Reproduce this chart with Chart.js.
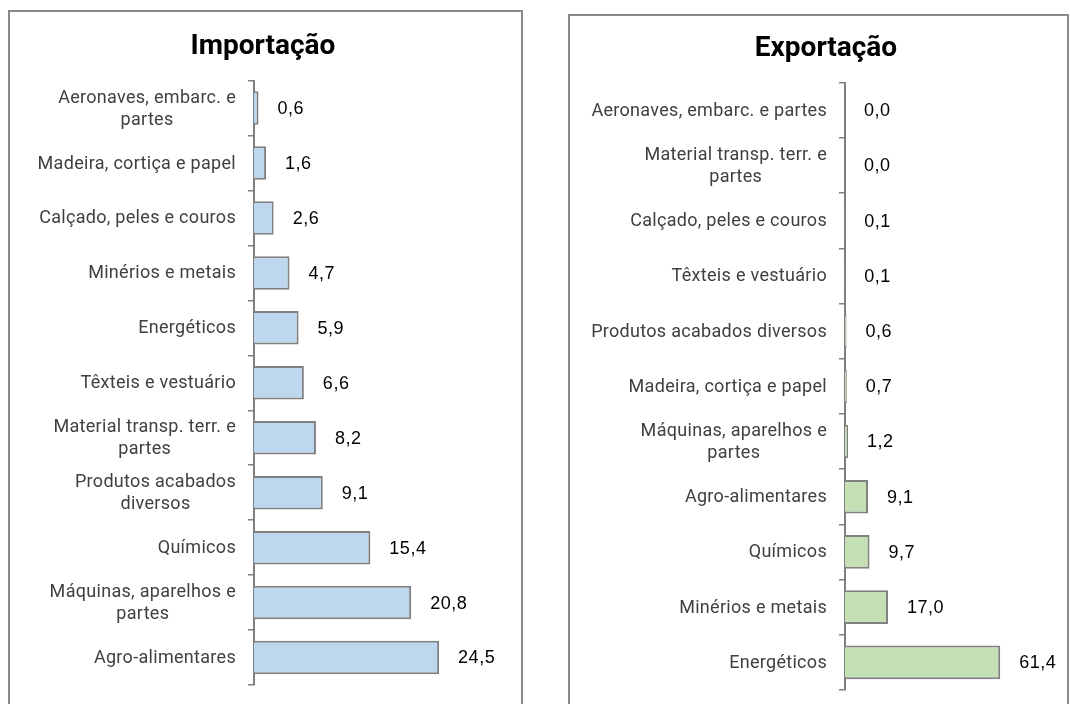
<!DOCTYPE html>
<html>
<head>
<meta charset="utf-8">
<script src="https://cdn.jsdelivr.net/npm/chart.js@4.4.0/dist/chart.umd.min.js"></script>
<style>
  body { margin: 0; background: #fff; width: 1070px; height: 704px; overflow: hidden; position: relative; }
  .painel { position: absolute; border: 2px solid #8a8a8a; box-sizing: border-box; }
  canvas { position: absolute; top: 0; }
</style>
</head>
<body>
<div class="painel" style="left:8px; top:10px; width:515px; height:720px;"></div>
<div class="painel" style="left:568px; top:14px; width:501px; height:720px;"></div>
<canvas id="graficoImp" width="535" height="704" style="left:0"></canvas>
<canvas id="graficoExp" width="535" height="704" style="left:535px"></canvas>
<script>
// importação (%)
const categoriasImp = [
  ['Aeronaves, embarc. e', 'partes'],
  'Madeira, cortiça e papel',
  'Calçado, peles e couros',
  'Minérios e metais',
  'Energéticos',
  'Têxteis e vestuário',
  ['Material transp. terr. e', 'partes'],
  ['Produtos acabados', 'diversos'],
  'Químicos',
  ['Máquinas, aparelhos e', 'partes'],
  'Agro-alimentares'
];
const valoresImp = [0.6, 1.6, 2.6, 4.7, 5.9, 6.6, 8.2, 9.1, 15.4, 20.8, 24.5];

// exportação (%)
const categoriasExp = [
  'Aeronaves, embarc. e partes',
  ['Material transp. terr. e', 'partes'],
  'Calçado, peles e couros',
  'Têxteis e vestuário',
  'Produtos acabados diversos',
  'Madeira, cortiça e papel',
  ['Máquinas, aparelhos e', 'partes'],
  'Agro-alimentares',
  'Químicos',
  'Minérios e metais',
  'Energéticos'
];
const valoresExp = [0.0, 0.0, 0.1, 0.1, 0.6, 0.7, 1.2, 9.1, 9.7, 17.0, 61.4];

// escreve o valor ao lado de cada barra
const rotulos = {
  id: 'rotulos',
  afterDatasetsDraw(chart) {
    const ctx = chart.ctx;
    const meta = chart.getDatasetMeta(0);
    const valores = chart.data.datasets[0].data;
    ctx.save();
    ctx.font = '18px "Liberation Sans", Arial, sans-serif';
    ctx.letterSpacing = '0.5px';
    ctx.fillStyle = '#000';
    ctx.textBaseline = 'middle';
    ctx.textAlign = 'left';
    meta.data.forEach((barra, i) => {
      const txt = valores[i].toFixed(1).replace('.', ',');
      ctx.fillText(txt, barra.x + 19, barra.y + 1);
    });
    ctx.restore();
  }
};

// categorias: linhas centradas entre si, bloco alinhado à direita
const categoriasEixo = {
  id: 'categoriasEixo',
  afterDraw(chart) {
    const ctx = chart.ctx;
    const s = chart.scales.y;
    ctx.save();
    ctx.font = '18px Roboto, sans-serif';
    ctx.letterSpacing = '0.3px';
    ctx.fillStyle = '#404040';
    ctx.textBaseline = 'middle';
    ctx.textAlign = 'center';
    chart.data.labels.forEach((lbl, i) => {
      const linhas = Array.isArray(lbl) ? lbl : [lbl];
      const larg = Math.max(...linhas.map(l => ctx.measureText(l).width));
      const cx = s.right - 18 - larg / 2;
      const y0 = s.getPixelForTick(i) - (linhas.length - 1) * 11;
      linhas.forEach((l, k) => ctx.fillText(l, cx, y0 + k * 22 + 1));
    });
    ctx.restore();
  }
};

function criaGrafico(id, titulo, categorias, valores, cor, larguraEixo, maximo, padding, tituloPad) {
  const ctx = document.getElementById(id);
  return new Chart(ctx, {
    type: 'bar',
    data: {
      labels: categorias,
      datasets: [{
        data: valores,
        backgroundColor: cor,
        borderColor: '#808080',
        borderWidth: 2,
        categoryPercentage: 1,
        barPercentage: 0.61
      }]
    },
    options: {
      indexAxis: 'y',
      responsive: false,
      animation: false,
      layout: { padding: padding },
      plugins: {
        legend: { display: false },
        tooltip: { enabled: false },
        title: {
          display: true,
          text: titulo,
          color: '#000',
          font: { family: 'Roboto', size: 28, weight: 'bold', lineHeight: 1.2 },
          padding: tituloPad
        }
      },
      scales: {
        x: { display: false, min: 0, max: maximo },
        y: {
          afterFit: (s) => { s.width = larguraEixo; },
          border: { display: true, color: '#808080', width: 2 },
          grid: { drawOnChartArea: false, drawTicks: true, tickLength: 6, color: '#808080', lineWidth: 1.5, offset: true },
          ticks: { display: false }
        }
      }
    },
    plugins: [rotulos, categoriasEixo]
  });
}

criaGrafico('graficoImp', 'Importação', categoriasImp, valoresImp, '#BDD7EE', 254, 36,
  { left: 0, right: 9, top: 0, bottom: 19 }, { top: 30, bottom: 17 });
criaGrafico('graficoExp', 'Exportação', categoriasExp, valoresExp, '#C5E0B4', 263, 89,
  { left: 47, right: 0, top: 0, bottom: 14 }, { top: 32, bottom: 17 });
</script>
</body>
</html>
